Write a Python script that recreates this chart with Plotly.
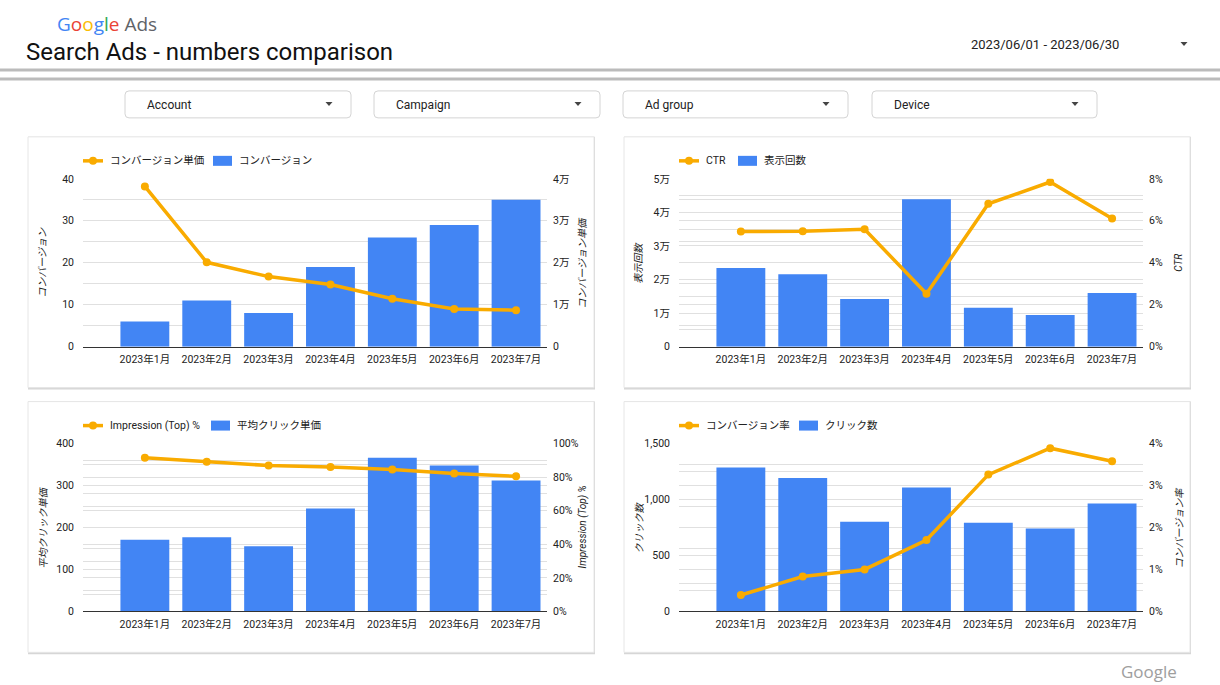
import plotly.graph_objects as go

W, H = 1220, 685
FONT = "Roboto, 'Noto Sans CJK JP', sans-serif"
BLUE = "#4285F4"
ORANGE = "#F9AB00"
GRID = "#e0e0e0"
TXT = "#222222"
FS = 10

# ---------------- data ----------------
months = ["2023年1月", "2023年2月", "2023年3月", "2023年4月", "2023年5月", "2023年6月", "2023年7月"]

conversions = [6, 11, 8, 19, 26, 29, 35]
cost_per_conv = [38200, 20100, 16700, 14800, 11400, 9000, 8700]

impressions = [23400, 21600, 14200, 43900, 11600, 9400, 16000]
ctr = [5.49, 5.5, 5.6, 2.52, 6.81, 7.85, 6.11]

avg_cpc = [171, 177, 155, 245, 366, 348, 312]
top_impr = [91.6, 89.2, 86.9, 86.0, 84.5, 82.1, 80.5]

clicks = [1285, 1192, 801, 1108, 792, 741, 965]
conv_rate = [0.39, 0.83, 1.0, 1.70, 3.26, 3.89, 3.58]

man_ticks_4 = [0, 10000, 20000, 30000, 40000]
man_labels_4 = ["0", "1万", "2万", "3万", "4万"]
man_ticks_5 = [0, 10000, 20000, 30000, 40000, 50000]
man_labels_5 = ["0", "1万", "2万", "3万", "4万", "5万"]

filters = ["Account", "Campaign", "Ad group", "Device"]
date_range = "2023/06/01 - 2023/06/30"

# the captured page is slightly compressed vertically; compensate
V_OFF = 6.0
V_SC = 0.982


def X(px):
    return px / W


def Y(py):
    return 1 - ((py - V_OFF) / V_SC) / H


fig = go.Figure()

charts = [
    dict(bar=conversions, bar_name="コンバージョン", line=cost_per_conv, line_name="コンバージョン単価",
         left=dict(range=[0, 40], dtick=10, minor=5),
         right=dict(range=[0, 40000], tickvals=man_ticks_4, ticktext=man_labels_4, minor=5000),
         px=(83, 547), py=(179, 347), card=(28, 137, 594, 388), leg_bar_x=213),
    dict(bar=impressions, bar_name="表示回数", line=ctr, line_name="CTR",
         left=dict(range=[0, 50000], tickvals=man_ticks_5, ticktext=man_labels_5, minor=5000),
         right=dict(range=[0, 8], dtick=2, minor=1, suffix="%"),
         px=(679, 1143), py=(179, 347), card=(624, 137, 1190, 388), leg_bar_x=738),
    dict(bar=avg_cpc, bar_name="平均クリック単価", line=top_impr, line_name="Impression (Top) %",
         left=dict(range=[0, 400], dtick=100, minor=50),
         right=dict(range=[0, 100], dtick=20, minor=10, suffix="%"),
         px=(83, 547), py=(444, 612), card=(28, 402, 594, 653), leg_bar_x=211),
    dict(bar=clicks, bar_name="クリック数", line=conv_rate, line_name="コンバージョン率",
         left=dict(range=[0, 1500], dtick=500, minor=250, fmt=","),
         right=dict(range=[0, 4], dtick=1, minor=0.5, suffix="%"),
         px=(679, 1143), py=(444, 612), card=(624, 402, 1190, 653), leg_bar_x=799),
]

shapes = []
annotations = []


def axis_cfg(cfg, side):
    d = dict(range=cfg["range"], showgrid=True, gridcolor=GRID, gridwidth=1, zeroline=False,
             showline=False, ticks="", tickfont=dict(size=FS + 0.5, color=TXT, family=FONT),
             minor=dict(tickmode="linear", tick0=0, dtick=cfg["minor"], showgrid=True,
                        gridcolor=GRID, gridwidth=1),
             side=side, fixedrange=True)
    if "tickvals" in cfg:
        d.update(tickmode="array", tickvals=cfg["tickvals"], ticktext=cfg["ticktext"])
    else:
        d.update(tickmode="linear", tick0=0, dtick=cfg["dtick"])
    if "suffix" in cfg:
        d["ticksuffix"] = cfg["suffix"]
    if "fmt" in cfg:
        d["tickformat"] = cfg["fmt"]
    d["ticklabelstandoff"] = 8 if side == "left" else 5
    return d


def txt(text, x, y, size=FS, color=TXT, xanchor="left", angle=0, family=FONT):
    annotations.append(dict(text=text, x=X(x), y=Y(y), xref="paper", yref="paper",
                            xanchor=xanchor, yanchor="middle", showarrow=False, textangle=angle,
                            font=dict(size=size, color=color, family=family)))


for i, c in enumerate(charts):
    k = i + 1
    xname = "x" if k == 1 else f"x{k}"
    yl = 2 * k - 1
    yr = 2 * k
    ylname = "y" if yl == 1 else f"y{yl}"
    yrname = f"y{yr}"

    fig.add_trace(go.Bar(x=months, y=c["bar"], name=c["bar_name"], marker=dict(color=BLUE, line=dict(width=0)),
                         width=0.79, xaxis=xname, yaxis=ylname, showlegend=False, hoverinfo="skip"))
    fig.add_trace(go.Scatter(x=months, y=c["line"], name=c["line_name"], mode="lines+markers",
                             line=dict(color=ORANGE, width=3.5), marker=dict(color=ORANGE, size=8),
                             xaxis=xname, yaxis=yrname, showlegend=False, hoverinfo="skip"))

    x0, x1 = c["px"]
    y0, y1 = c["py"]
    xa = "xaxis" if k == 1 else f"xaxis{k}"
    yla = "yaxis" if yl == 1 else f"yaxis{yl}"
    yra = f"yaxis{yr}"
    fig.update_layout(**{
        xa: dict(domain=[X(x0), X(x1)], anchor=ylname, type="category", range=[-1.0, 6.5],
                 showgrid=False, showline=True, linecolor="#333333", linewidth=1, ticks="",
                 ticklabelstandoff=3,
                 tickfont=dict(size=FS + 0.5, color=TXT, family=FONT), fixedrange=True),
        yla: dict(domain=[Y(y1), Y(y0)], anchor=xname, **axis_cfg(c["left"], "left")),
        yra: dict(overlaying=ylname, anchor=xname, **axis_cfg(c["right"], "right")),
    })

    # legend (line + bar swatches)
    ly = y0 - 18
    shapes.append(dict(type="line", xref="paper", yref="paper", x0=X(x0), x1=X(x0 + 20),
                       y0=Y(ly), y1=Y(ly), line=dict(color=ORANGE, width=3.5)))
    shapes.append(dict(type="circle", xref="paper", yref="paper", x0=X(x0 + 6), x1=X(x0 + 14),
                       y0=Y(ly - 4), y1=Y(ly + 4), fillcolor=ORANGE, line=dict(width=0)))
    txt(c["line_name"], x0 + 25, ly, size=FS + 0.5)
    bx = c["leg_bar_x"]
    shapes.append(dict(type="rect", xref="paper", yref="paper", x0=X(bx), x1=X(bx + 19),
                       y0=Y(ly - 5), y1=Y(ly + 5), fillcolor=BLUE, line=dict(width=0)))
    txt(c["bar_name"], bx + 24, ly, size=FS + 0.5)

    # axis titles
    txt(f"<i>{c['bar_name']}</i>", x0 - 40, (y0 + y1) / 2, xanchor="center", angle=-90)
    txt(f"<i>{c['line_name']}</i>", x1 + 36, (y0 + y1) / 2, xanchor="center", angle=-90)

    # card
    cx0, cy0, cx1, cy1 = c["card"]
    shapes.append(dict(type="rect", xref="paper", yref="paper", layer="below",
                       x0=X(cx0), x1=X(cx1 + 1), y0=Y(cy0), y1=Y(cy1 + 2),
                       fillcolor="#d6d6d6", line=dict(width=0)))
    shapes.append(dict(type="rect", xref="paper", yref="paper", layer="below",
                       x0=X(cx0), x1=X(cx1), y0=Y(cy0), y1=Y(cy1),
                       fillcolor="white", line=dict(color="#e6e6e6", width=1)))


def rrect(x0, y0, x1, y1, r):
    pts = [
        f"M{X(x0 + r)},{Y(y0)}",
        f"L{X(x1 - r)},{Y(y0)}",
        f"Q{X(x1)},{Y(y0)} {X(x1)},{Y(y0 + r)}",
        f"L{X(x1)},{Y(y1 - r)}",
        f"Q{X(x1)},{Y(y1)} {X(x1 - r)},{Y(y1)}",
        f"L{X(x0 + r)},{Y(y1)}",
        f"Q{X(x0)},{Y(y1)} {X(x0)},{Y(y1 - r)}",
        f"L{X(x0)},{Y(y0 + r)}",
        f"Q{X(x0)},{Y(y0)} {X(x0 + r)},{Y(y0)}",
        "Z",
    ]
    return " ".join(pts)


def tri(cx, cy):
    return f"M{X(cx - 3.5)},{Y(cy - 2)} L{X(cx + 3.5)},{Y(cy - 2)} L{X(cx)},{Y(cy + 2)} Z"


# header lines
for hy in (70, 79):
    shapes.append(dict(type="line", xref="paper", yref="paper", x0=0, x1=1, y0=Y(hy), y1=Y(hy),
                       line=dict(color="#bbbbbb", width=3), layer="below"))

# filter boxes
fboxes = [(125, 351), (374, 600), (623, 848), (872, 1097)]
for name, (bx0, bx1) in zip(filters, fboxes):
    shapes.append(dict(type="path", xref="paper", yref="paper", path=rrect(bx0, 91, bx1, 118, 4),
                       fillcolor="white", line=dict(color="#d4d4d4", width=1), layer="below"))
    shapes.append(dict(type="path", xref="paper", yref="paper", path=tri(bx1 - 22, 104),
                       fillcolor="#444444", line=dict(width=0), layer="below"))
    txt(name, bx0 + 20, 105, size=12)

# date selector
txt(date_range, 969, 45, size=13)
shapes.append(dict(type="path", xref="paper", yref="paper", path=tri(1184, 44),
                   fillcolor="#444444", line=dict(width=0), layer="below"))

# logo & title
logo = ('<span style="color:#4285F4">G</span><span style="color:#EA4335">o</span>'
        '<span style="color:#FBBC05">o</span><span style="color:#4285F4">g</span>'
        '<span style="color:#34A853">l</span><span style="color:#EA4335">e</span>'
        ' <span style="color:#5F6368">Ads</span>')
txt(logo, 55, 24, size=19, family="'Open Sans', Roboto, sans-serif")
txt("Search Ads - numbers comparison", 24, 52, size=24, color="#111111")
txt("Google", 1179, 672, size=17, color="#9e9e9e", xanchor="right",
    family="'Open Sans', Roboto, sans-serif")

fig.update_layout(width=W, height=H, margin=dict(l=0, r=0, t=0, b=0, pad=0),
                  paper_bgcolor="white", plot_bgcolor="rgba(0,0,0,0)",
                  shapes=shapes, annotations=annotations, bargap=0.2, showlegend=False,
                  font=dict(family=FONT, size=FS, color=TXT), hovermode=False)

fig.write_html("out.html", config={"displayModeBar": False})
